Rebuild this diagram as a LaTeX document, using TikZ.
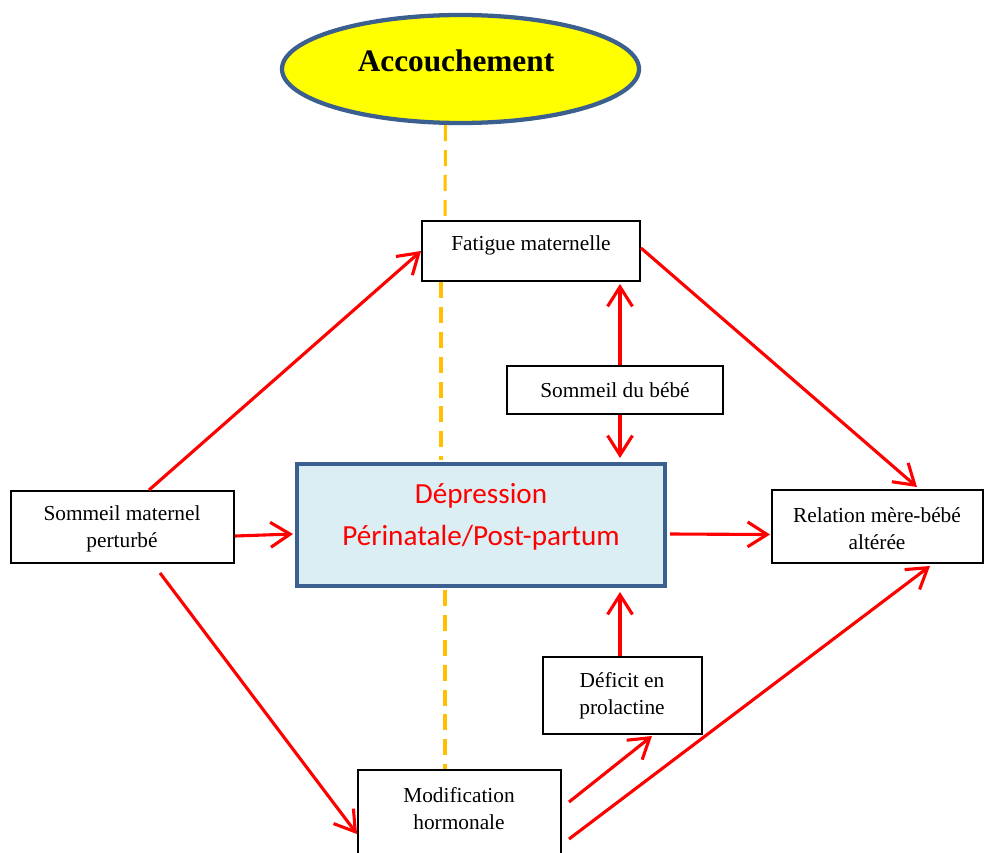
\documentclass[tikz,border=0pt]{standalone}
\usepackage{fontspec}
\setmainfont{Liberation Serif}
\newfontfamily\calib{Carlito}
\usetikzlibrary{arrows.meta,fit,shapes.geometric}
\definecolor{dashorange}{HTML}{FFC000}
\definecolor{frameblue}{HTML}{3B5F8E}
\definecolor{lightblue}{HTML}{DAEEF3}
\definecolor{brightyellow}{HTML}{FFFF00}
\tikzset{
  bx/.style={draw=black, line width=1.1pt, inner sep=0pt, fill=white},
  txt/.style={font=\fontsize{12}{15.2}\selectfont, align=center, inner sep=0pt},
  arr/.style={draw=red, line width=1.75pt, -{Straight Barb[length=11pt,width=14pt]}},
  dsh/.style={draw=dashorange, line width=1.7pt, dash pattern=on 9pt off 5pt},
}
\begin{document}
\begin{tikzpicture}[x=0.5625pt,y=-0.5625pt]
\useasboundingbox (0,0) rectangle (984,852);
\clip (0,0) rectangle (984,852);
% ellipse
\node[ellipse, draw=frameblue, line width=2.4pt, fill=brightyellow, inner sep=0pt,
      minimum width=357*0.5625pt, minimum height=108*0.5625pt] (ell) at (460.5,69) {};
\node[inner sep=0pt, font=\fontsize{17.6}{20}\selectfont\bfseries] (acct) at (456,61) {Accouchement};
% boxes
\node[bx, fit={(422,221) (640,281)}] (fat) {};
\node[bx, fit={(507,366) (723,414)}] (bebe) {};
\node[draw=frameblue, line width=2.25pt, fill=lightblue, inner sep=0pt, fit={(297,464) (665,586)}] (dep) {};
\node[bx, fit={(11,491) (234,563)}] (sm) {};
\node[bx, fit={(772,490) (983,563)}] (rel) {};
\node[bx, fit={(543,657) (702,734)}] (def) {};
\node[bx, fit={(358,770) (561,880)}] (mod) {};
% texts
\node[txt] (fatt) at (531,245) {Fatigue maternelle};
\node[txt] (bebet) at (615,390) {Sommeil du bébé};
\node[inner sep=0pt, align=center, text=red, font=\calib\fontsize{16.4}{23.6}\selectfont] (dept) at (481,517) {Dépression\\Périnatale/Post-partum};
\node[txt] (smt) at (122,529) {Sommeil maternel\\perturbé};
\node[txt] (relt) at (877,529) {Relation mère-bébé\\altérée};
\node[txt] (deft) at (622,696) {Déficit en\\prolactine};
\node[txt] (modt) at (459,809) {Modification\\hormonale};
% dashed orange line
\draw[dsh] ([shift={(-15,0)}]ell.south) -- ([shift={(-86,0)}]fat.north);
\draw[dsh] ([shift={(-90,0)}]fat.south) -- ([shift={(-40,-2)}]dep.north);
\draw[dsh] ([shift={(-36,2)}]dep.south) -- ([shift={(-14.5,0)}]mod.north);
% arrows
\draw[arr] ([shift={(26.5,0)}]sm.north) -- (fat.west);
\draw[arr] ([shift={(0,9)}]sm.east) -- ([shift={(-2,9)}]dep.west);
\draw[arr] ([shift={(37.5,9)}]sm.south) -- ([shift={(0,65)}]mod.north west);
\draw[arr] ([shift={(5,0)}]bebe.north) -- ([shift={(89,2)}]fat.south);
\draw[arr] ([shift={(5,0)}]bebe.south) -- ([shift={(139,-4)}]dep.north);
\draw[arr] ([shift={(0,-3)}]fat.east) -- ([shift={(39.5,-2)}]rel.north);
\draw[arr] ([shift={(3,9)}]dep.east) -- ([shift={(-1,8)}]rel.west);
\draw[arr] ([shift={(-2.5,0)}]def.north) -- ([shift={(139,4)}]dep.south);
\draw[arr] ([shift={(7,33)}]mod.north east) -- ([shift={(29.5,1)}]def.south);
\draw[arr] ([shift={(7,70)}]mod.north east) -- ([shift={(52.5,2)}]rel.south);
\end{tikzpicture}
\end{document}
